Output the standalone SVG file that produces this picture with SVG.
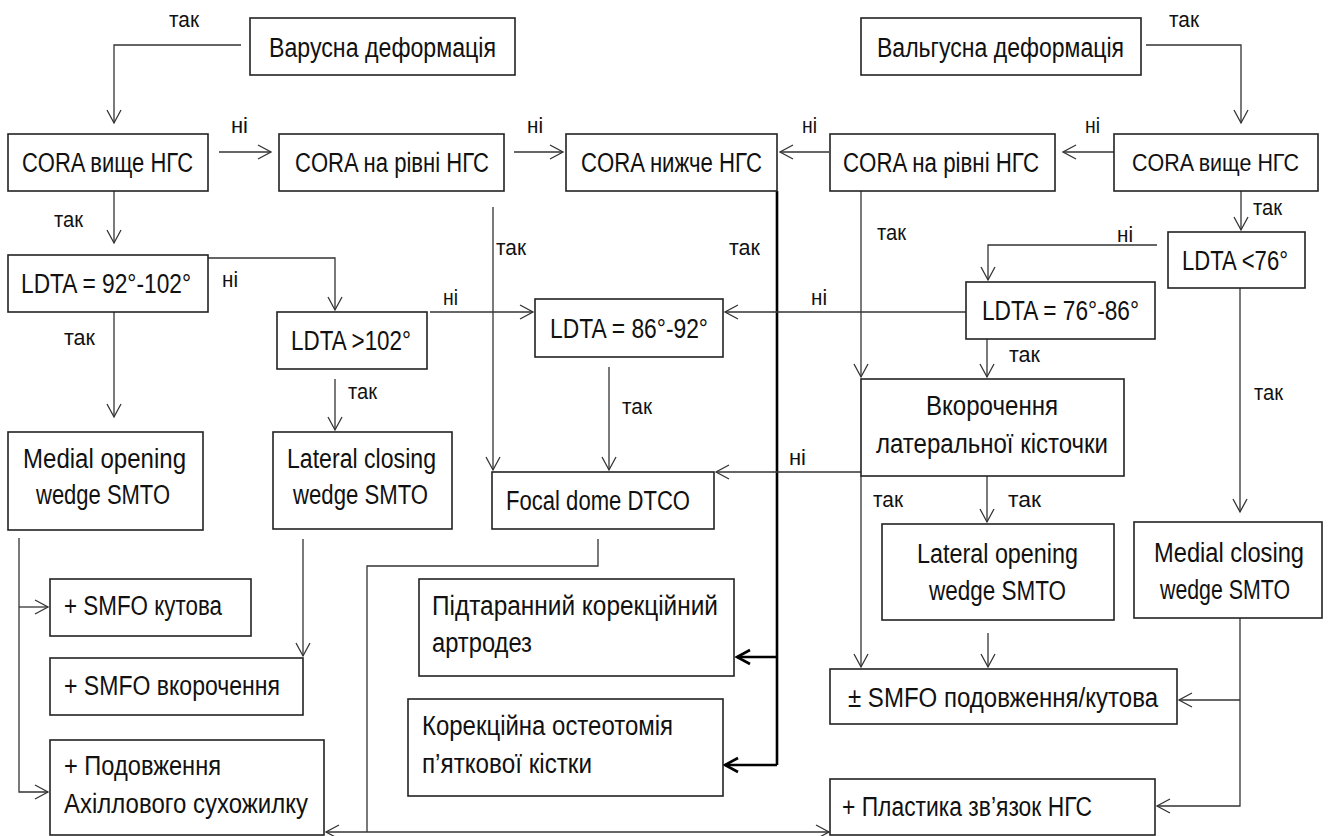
<svg xmlns="http://www.w3.org/2000/svg" width="1331" height="836" viewBox="0 0 1331 836">
<style>
.box{fill:#fff;stroke:#222;stroke-width:1.6}
.t{font-family:"Liberation Sans",Arial,sans-serif;font-size:27px;fill:#111}
.l{font-family:"Liberation Sans",Arial,sans-serif;font-size:22px;fill:#111}
.c{fill:none;stroke:#333;stroke-width:1.3}
.k{fill:none;stroke:#000;stroke-width:2.6}
</style>
<defs>
<marker id="a" viewBox="-15 -9 17 18" refX="0" refY="0" markerWidth="17" markerHeight="18" markerUnits="userSpaceOnUse" orient="auto-start-reverse">
<path d="M-13,-7 L0,0 L-13,7" fill="none" stroke="#333" stroke-width="1.3"/>
</marker>
<marker id="ak" viewBox="-16 -10 19 20" refX="0" refY="0" markerWidth="19" markerHeight="20" markerUnits="userSpaceOnUse" orient="auto">
<path d="M-13,-7 L0,0 L-13,7" fill="none" stroke="#000" stroke-width="2.6"/>
</marker>
</defs>
<g id="connectors">
<path class="c" d="M241,45 H114 V123" marker-end="url(#a)"/>
<path class="c" d="M219,152 H271" marker-end="url(#a)"/>
<path class="c" d="M514,152 H563" marker-end="url(#a)"/>
<path class="c" d="M829,152 H780" marker-end="url(#a)"/>
<path class="c" d="M1114,152 H1063" marker-end="url(#a)"/>
<path class="c" d="M1146,45 H1241 V123" marker-end="url(#a)"/>
<path class="c" d="M114,191 V243" marker-end="url(#a)"/>
<path class="c" d="M208,258 H335 V310" marker-end="url(#a)"/>
<path class="c" d="M114,312 V417" marker-end="url(#a)"/>
<path class="c" d="M430,312 H533" marker-end="url(#a)"/>
<path class="c" d="M335,379 V430" marker-end="url(#a)"/>
<path class="c" d="M493,207 V470" marker-end="url(#a)"/>
<path class="c" d="M609,367 V470" marker-end="url(#a)"/>
<path class="k" d="M777,191 V765"/>
<path class="k" d="M777,657 H737" marker-end="url(#ak)"/>
<path class="k" d="M777,765 H725" marker-end="url(#ak)"/>
<path class="c" d="M861,191 V377" marker-end="url(#a)"/>
<path class="c" d="M1241,191 V230" marker-end="url(#a)"/>
<path class="c" d="M1157,245 H988 V280" marker-end="url(#a)"/>
<path class="c" d="M966,312 H725" marker-end="url(#a)"/>
<path class="c" d="M987,339 V377" marker-end="url(#a)"/>
<path class="c" d="M861,472 H716" marker-end="url(#a)"/>
<path class="c" d="M987,476 V522" marker-end="url(#a)"/>
<path class="c" d="M1240,288 V512" marker-end="url(#a)"/>
<path class="c" d="M861,476 V667" marker-end="url(#a)"/>
<path class="c" d="M988,633 V667" marker-end="url(#a)"/>
<path class="c" d="M1240,618 V806 H1157" marker-end="url(#a)"/>
<path class="c" d="M1240,700 H1179" marker-end="url(#a)"/>
<path class="c" d="M19,538 V792 H48" marker-end="url(#a)"/>
<path class="c" d="M19,607 H48" marker-end="url(#a)"/>
<path class="c" d="M303,539 V656" marker-end="url(#a)"/>
<path class="c" d="M598,539 V566 H367 V832"/>
<path class="c" d="M326,832 H829" marker-start="url(#a)" marker-end="url(#a)"/>
</g>
<g id="labels">
<text class="l" x="169" y="27" textLength="30" lengthAdjust="spacingAndGlyphs">так</text>
<text class="l" x="231" y="133" textLength="17" lengthAdjust="spacingAndGlyphs">ні</text>
<text class="l" x="527" y="133" textLength="16" lengthAdjust="spacingAndGlyphs">ні</text>
<text class="l" x="802" y="133" textLength="15" lengthAdjust="spacingAndGlyphs">ні</text>
<text class="l" x="1085" y="133" textLength="15" lengthAdjust="spacingAndGlyphs">ні</text>
<text class="l" x="1169" y="27" textLength="30" lengthAdjust="spacingAndGlyphs">так</text>
<text class="l" x="54" y="227" textLength="29" lengthAdjust="spacingAndGlyphs">так</text>
<text class="l" x="222" y="287" textLength="16" lengthAdjust="spacingAndGlyphs">ні</text>
<text class="l" x="496" y="255" textLength="30" lengthAdjust="spacingAndGlyphs">так</text>
<text class="l" x="729" y="255" textLength="31" lengthAdjust="spacingAndGlyphs">так</text>
<text class="l" x="877" y="240" textLength="29" lengthAdjust="spacingAndGlyphs">так</text>
<text class="l" x="1253" y="215" textLength="29" lengthAdjust="spacingAndGlyphs">так</text>
<text class="l" x="1117" y="242" textLength="16" lengthAdjust="spacingAndGlyphs">ні</text>
<text class="l" x="443" y="305" textLength="15" lengthAdjust="spacingAndGlyphs">ні</text>
<text class="l" x="811" y="305" textLength="16" lengthAdjust="spacingAndGlyphs">ні</text>
<text class="l" x="64" y="345" textLength="31" lengthAdjust="spacingAndGlyphs">так</text>
<text class="l" x="348" y="399" textLength="29" lengthAdjust="spacingAndGlyphs">так</text>
<text class="l" x="1009" y="362" textLength="31" lengthAdjust="spacingAndGlyphs">так</text>
<text class="l" x="622" y="414" textLength="30" lengthAdjust="spacingAndGlyphs">так</text>
<text class="l" x="1254" y="400" textLength="29" lengthAdjust="spacingAndGlyphs">так</text>
<text class="l" x="789" y="465" textLength="17" lengthAdjust="spacingAndGlyphs">ні</text>
<text class="l" x="873" y="507" textLength="30" lengthAdjust="spacingAndGlyphs">так</text>
<text class="l" x="1008" y="507" textLength="33" lengthAdjust="spacingAndGlyphs">так</text>
</g>
<g id="n1"><rect class="box" x="250" y="18" width="265" height="57"/><text class="t" x="269" y="57" textLength="227" lengthAdjust="spacingAndGlyphs">Варусна деформація</text></g>
<g id="n2"><rect class="box" x="861" y="18" width="280" height="57"/><text class="t" x="877" y="57" textLength="247" lengthAdjust="spacingAndGlyphs">Вальгусна деформація</text></g>
<g id="n3"><rect class="box" x="8" y="134" width="200" height="57"/><text class="t" x="22" y="172" textLength="171" lengthAdjust="spacingAndGlyphs">CORA вище НГС</text></g>
<g id="n4"><rect class="box" x="279" y="134" width="225" height="57"/><text class="t" x="295" y="172" textLength="194" lengthAdjust="spacingAndGlyphs">CORA на рівні НГС</text></g>
<g id="n5"><rect class="box" x="566" y="134" width="211" height="57"/><text class="t" x="581" y="172" textLength="181" lengthAdjust="spacingAndGlyphs">CORA нижче НГС</text></g>
<g id="n6"><rect class="box" x="830" y="134" width="225" height="57"/><text class="t" x="843" y="172" textLength="196" lengthAdjust="spacingAndGlyphs">CORA на рівні НГС</text></g>
<g id="n7"><rect class="box" x="1114" y="134" width="204" height="57"/><text class="t" x="1132" y="171" style="font-size:24px" textLength="167" lengthAdjust="spacingAndGlyphs">CORA вище НГС</text></g>
<g id="n8"><rect class="box" x="8" y="255" width="200" height="57"/><text class="t" x="21" y="293" textLength="170" lengthAdjust="spacingAndGlyphs">LDTA = 92°-102°</text></g>
<g id="n9"><rect class="box" x="277" y="312" width="150" height="57"/><text class="t" x="291" y="350" textLength="120" lengthAdjust="spacingAndGlyphs">LDTA &gt;102°</text></g>
<g id="n10"><rect class="box" x="535" y="299" width="188" height="58"/><text class="t" x="550" y="338" textLength="158" lengthAdjust="spacingAndGlyphs">LDTA = 86°-92°</text></g>
<g id="n11"><rect class="box" x="1168" y="232" width="137" height="56"/><text class="t" x="1182" y="270" textLength="106" lengthAdjust="spacingAndGlyphs">LDTA &lt;76°</text></g>
<g id="n12"><rect class="box" x="966" y="282" width="189" height="57"/><text class="t" x="982" y="320" textLength="157" lengthAdjust="spacingAndGlyphs">LDTA = 76°-86°</text></g>
<g id="n13"><rect class="box" x="8" y="432" width="195" height="98"/><text class="t" x="23" y="468" textLength="163" lengthAdjust="spacingAndGlyphs">Medial opening</text><text class="t" x="36" y="504" textLength="134" lengthAdjust="spacingAndGlyphs">wedge SMTO</text></g>
<g id="n14"><rect class="box" x="273" y="432" width="179" height="97"/><text class="t" x="287" y="468" textLength="149" lengthAdjust="spacingAndGlyphs">Lateral closing</text><text class="t" x="293" y="504" textLength="135" lengthAdjust="spacingAndGlyphs">wedge SMTO</text></g>
<g id="n15"><rect class="box" x="492" y="472" width="222" height="57"/><text class="t" x="506" y="510" textLength="184" lengthAdjust="spacingAndGlyphs">Focal dome DTCO</text></g>
<g id="n16"><rect class="box" x="861" y="379" width="263" height="97"/><text class="t" x="926" y="415" textLength="132" lengthAdjust="spacingAndGlyphs">Вкорочення</text><text class="t" x="876" y="453" textLength="232" lengthAdjust="spacingAndGlyphs">латеральної кісточки</text></g>
<g id="n17"><rect class="box" x="882" y="524" width="232" height="96"/><text class="t" x="917" y="563" textLength="161" lengthAdjust="spacingAndGlyphs">Lateral opening</text><text class="t" x="929" y="600" textLength="137" lengthAdjust="spacingAndGlyphs">wedge SMTO</text></g>
<g id="n18"><rect class="box" x="1134" y="522" width="188" height="96"/><text class="t" x="1154" y="562" textLength="150" lengthAdjust="spacingAndGlyphs">Medial closing</text><text class="t" x="1160" y="599" textLength="130" lengthAdjust="spacingAndGlyphs">wedge SMTO</text></g>
<g id="n19"><rect class="box" x="50" y="579" width="201" height="57"/><text class="t" x="64" y="615" textLength="158" lengthAdjust="spacingAndGlyphs">+ SMFO кутова</text></g>
<g id="n20"><rect class="box" x="50" y="658" width="253" height="57"/><text class="t" x="64" y="695" textLength="216" lengthAdjust="spacingAndGlyphs">+ SMFO вкорочення</text></g>
<g id="n21"><rect class="box" x="50" y="740" width="274" height="95"/><text class="t" x="64" y="775" textLength="157" lengthAdjust="spacingAndGlyphs">+ Подовження</text><text class="t" x="64" y="813" textLength="244" lengthAdjust="spacingAndGlyphs">Ахіллового сухожилку</text></g>
<g id="n22"><rect class="box" x="419" y="579" width="315" height="97"/><text class="t" x="432" y="615" textLength="286" lengthAdjust="spacingAndGlyphs">Підтаранний корекційний</text><text class="t" x="432" y="652" textLength="100" lengthAdjust="spacingAndGlyphs">артродез</text></g>
<g id="n23"><rect class="box" x="408" y="699" width="315" height="97"/><text class="t" x="422" y="735" textLength="251" lengthAdjust="spacingAndGlyphs">Корекційна остеотомія</text><text class="t" x="422" y="773" textLength="170" lengthAdjust="spacingAndGlyphs">п’яткової кістки</text></g>
<g id="n24"><rect class="box" x="830" y="669" width="347" height="55"/><text class="t" x="848" y="707" textLength="310" lengthAdjust="spacingAndGlyphs">± SMFO подовження/кутова</text></g>
<g id="n25"><rect class="box" x="830" y="779" width="325" height="56"/><text class="t" x="842" y="816" textLength="250" lengthAdjust="spacingAndGlyphs">+ Пластика зв’язок НГС</text></g>
</svg>
